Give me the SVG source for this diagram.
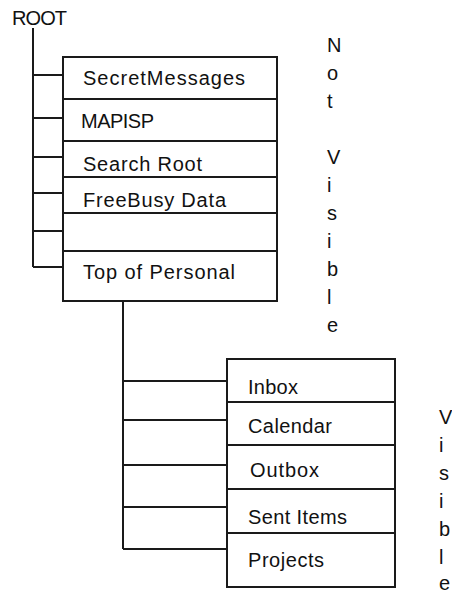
<svg xmlns="http://www.w3.org/2000/svg" width="452" height="594" viewBox="0 0 452 594">
<style>
.ln{stroke:#1a1a1a;stroke-width:2;fill:none}
.bx{stroke:#1a1a1a;stroke-width:2;fill:#ffffff}
text{font-family:"Liberation Sans",Arial,sans-serif;font-size:20px;fill:#111}
</style>
<rect width="452" height="594" fill="#ffffff"/>
<g id="connectors">
<path class="ln" d="M33 28V267M33 75H63M33 118H63M33 157H63M33 193H63M33 231H63M33 267H63"/>
<path class="ln" d="M123 301V549M123 381H227M123 420H227M123 465H227M123 507H227M123 549H227"/>
</g>
<g id="root"><text x="12" y="25" textLength="55">ROOT</text></g>
<g id="top-box">
<rect class="bx" x="63" y="57" width="214" height="244"/>
<path class="ln" d="M63 99H277M63 141H277M63 177H277M63 213H277M63 251H277"/>
</g>
<g id="secretmessages"><text x="83" y="85" textLength="162">SecretMessages</text></g>
<g id="mapisp"><text x="81" y="128" textLength="73">MAPISP</text></g>
<g id="searchroot"><text x="83" y="171" textLength="119">Search Root</text></g>
<g id="freebusy"><text x="83" y="207" textLength="143">FreeBusy Data</text></g>
<g id="topofpersonal"><text x="83" y="279" textLength="152">Top of Personal</text></g>
<g id="bottom-box">
<rect class="bx" x="227" y="359" width="168" height="228"/>
<path class="ln" d="M227 402H395M227 445H395M227 489H395M227 533H395"/>
</g>
<g id="inbox"><text x="248" y="394" textLength="50">Inbox</text></g>
<g id="calendar"><text x="248" y="433" textLength="84">Calendar</text></g>
<g id="outbox"><text x="250" y="477" textLength="69">Outbox</text></g>
<g id="sentitems"><text x="248" y="524" textLength="99">Sent Items</text></g>
<g id="projects"><text x="248" y="567" textLength="76">Projects</text></g>
<g id="not-visible"><text><tspan x="327" y="52">N</tspan><tspan x="327" y="80">o</tspan><tspan x="327" y="108">t</tspan><tspan x="327" y="164">V</tspan><tspan x="327" y="192">i</tspan><tspan x="327" y="220">s</tspan><tspan x="327" y="248">i</tspan><tspan x="327" y="276">b</tspan><tspan x="327" y="304">l</tspan><tspan x="327" y="332">e</tspan></text></g>
<g id="visible"><text><tspan x="439" y="424">V</tspan><tspan x="439" y="452">i</tspan><tspan x="439" y="480">s</tspan><tspan x="439" y="508">i</tspan><tspan x="439" y="536">b</tspan><tspan x="439" y="564">l</tspan><tspan x="439" y="590">e</tspan></text></g>
</svg>
